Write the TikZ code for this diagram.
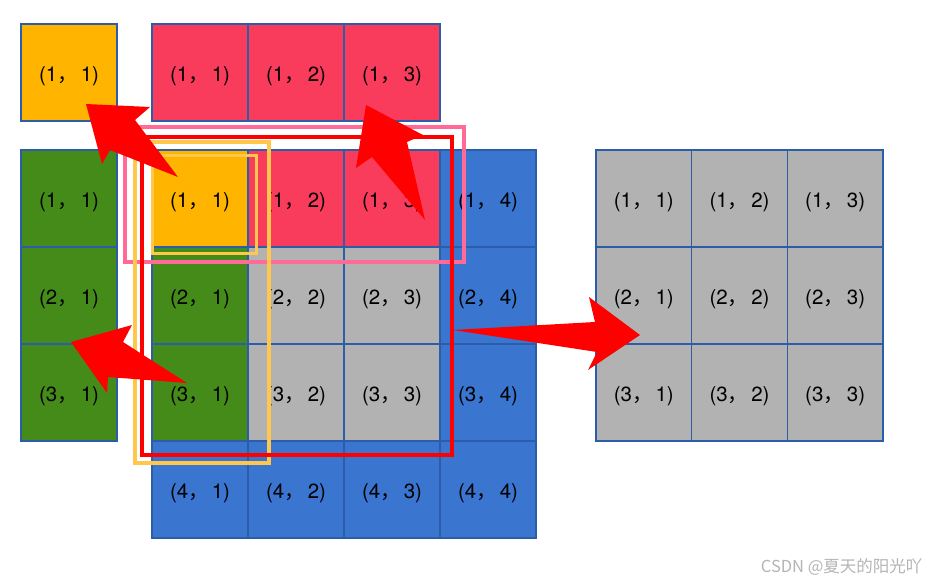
\documentclass[tikz,border=0pt]{standalone}
\usepackage{fontspec}
\setmainfont{TeX Gyre Heros}
\newfontfamily\cjk{Noto Sans CJK SC}
\usepackage{tikz}
\usetikzlibrary{positioning}
\definecolor{yellowcell}{HTML}{FFB400}
\definecolor{redcell}{HTML}{FA3C5C}
\definecolor{greencell}{HTML}{458B1A}
\definecolor{bluecell}{HTML}{3A75D0}
\definecolor{graycell}{HTML}{B2B2B2}
\definecolor{cellline}{HTML}{2C5DA8}
\definecolor{pinkbox}{HTML}{FF6A96}
\definecolor{yellowbox}{HTML}{FFC84D}
\definecolor{markgray}{HTML}{B4B4B4}
\newcommand{\pos}[2]{(#1{\cjk ，}\hspace{3pt}#2)}
\tikzset{
  cell/.style={draw=cellline,line width=1.2pt,minimum width=96pt,minimum height=97pt,
    inner sep=0pt,text height=18.5pt,text depth=0pt,font=\fontsize{20.5}{22}\selectfont},
  outline/.style={line width=3.5pt},
  bigarrow/.style={fill=red}
}

\begin{document}
\begin{tikzpicture}[x=1pt,y=-1pt]
        \useasboundingbox (0,0) rectangle (930,582);
        % input 4x4
        \foreach \i/\j/\c in {1/1/yellowcell,1/2/redcell,1/3/redcell,1/4/bluecell,
                              2/1/greencell,2/2/graycell,2/3/graycell,2/4/bluecell,
                              3/1/greencell,3/2/graycell,3/3/graycell,3/4/bluecell,
                              4/1/bluecell,4/2/bluecell,4/3/bluecell,4/4/bluecell}{
          \node[cell,fill=\c] (m\i\j) at ({200+96*(\j-1)},{198.5+97*(\i-1)}) {\pos{\i}{\j}};
        }
        % output 3x3
        \foreach \i in {1,2,3}{
          \foreach \j in {1,2,3}{
            \node[cell,fill=graycell,minimum width=95.7pt] (r\i\j) at ({643.8+95.7*(\j-1)},{198.5+97*(\i-1)}) {\pos{\i}{\j}};
          }
        }
        \node[cell,fill=yellowcell] (y11) at (69,72.5) {\pos{1}{1}};
        \foreach \j in {1,2,3}{
          \node[cell,fill=redcell] (t1\j) at ({200+96*(\j-1)},72.5) {\pos{1}{\j}};
        }
        \foreach \i in {1,2,3}{
          \node[cell,fill=greencell] (g\i1) at (69,{198.5+97*(\i-1)}) {\pos{\i}{1}};
        }
        % windows
        \draw[outline,pinkbox] (125,127) rectangle (464,262);
        \draw[outline,yellowbox] (135,142) rectangle (269,463);
        \draw[outline,red] (142,137) rectangle (452,455);
        \draw[line width=3pt,yellowbox] (152,155) rectangle (256,253);
        % arrows
        \fill[bigarrow] (86,104) -- (150,107) -- (135,120) -- (178,177) -- (110,150) -- (102,164) -- cycle;
        \fill[bigarrow] (366,105) -- (423,135) -- (407,142) -- (425,220) -- (372,157) -- (356,168) -- cycle;
        \fill[bigarrow] (71,342) -- (132,325) -- (123,342) -- (187,383) -- (108,377) -- (107,393) -- cycle;
        \fill[bigarrow] (640,335) -- (589,297) -- (595,322) -- (453,330) -- (597,352) -- (588,370) -- cycle;
        \node[text=markgray,font=\cjk\fontsize{16.5}{18}\selectfont,anchor=east] (mark) at (926,567) {CSDN @夏天的阳光吖};
      \end{tikzpicture}
\end{document}
